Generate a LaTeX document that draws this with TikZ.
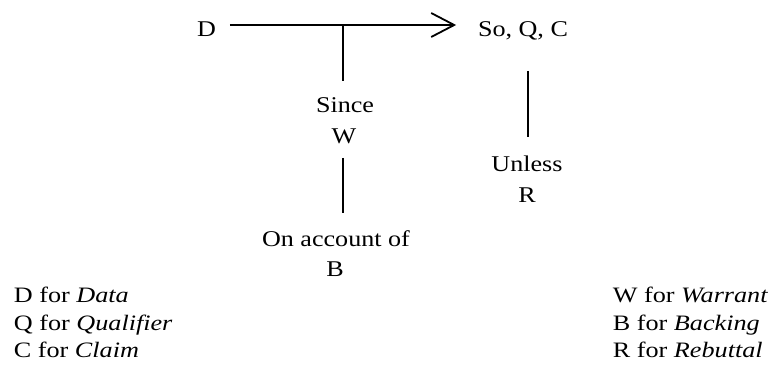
\documentclass[tikz,border=0pt]{standalone}
\usepackage{fontspec}
\setmainfont{Liberation Serif}
\newfontfamily\topfont[FakeStretch=1.16]{Liberation Serif}
\newfontfamily\keyfont[FakeStretch=1.19]{Liberation Serif}
\usetikzlibrary{arrows.meta}

\begin{document}
\begin{tikzpicture}[
        x=1pt, y=-1pt,
        line width=1.8pt,
        line join=miter,
        >={Straight Barb[length=23pt,width=24pt]}]

        \tikzstyle{every node}=[
            inner sep = 0pt,
            text height = 14pt,
            text depth = 4pt
        ]
        \tikzset{l/.style={font=\topfont\fontsize{22.5}{31}\selectfont, anchor=base}}
        \tikzset{k/.style={font=\keyfont\fontsize{22}{27}\selectfont, anchor=base west}}
        \useasboundingbox (0,0) rectangle (773,367);

        \node[l] (d) at (206.5,36) {D};
        \node[l] (c) at (523,36) {So, Q, C};
        \node[l] (s) at (345,112) {Since};
        \node[l] (w) at (344,143) {W};
        \node[l] (o) at (336,246) {On account of};
        \node[l] (b) at (335,276) {B};
        \node[l] (u) at (527,171) {Unless};
        \node[l] (r) at (527,202) {R};

        % D -> claim, warrant hangs from it
        \draw[->] ([yshift=6pt]d.east) ++(13,0)
            -- ([shift={(-21pt,6pt)}]c.west);
        \coordinate (t) at (343,25);
        \draw (t) -- ([yshift=16pt]t |- s.north);
        \draw ([yshift=-10pt]t |- w.south) -- ([yshift=18pt]t |- o.north);
        \draw ([xshift=1pt,yshift=-30pt]u |- c.south) -- ([xshift=1pt,yshift=19pt]u.north);

        % key
        \node[k] (k1) at (13,302.5) {D for \textit{Data}};
        \node[k] (k2) at (13,330) {Q for \textit{Qualifier}};
        \node[k] (k3) at (13,357) {C for \textit{Claim}};
        \node[k] (k4) at (612,302.5) {W for \textit{Warrant}};
        \node[k] (k5) at (612,330) {B for \textit{Backing}};
        \node[k] (k6) at (612,357) {R for \textit{Rebuttal}};
    \end{tikzpicture}
\end{document}
